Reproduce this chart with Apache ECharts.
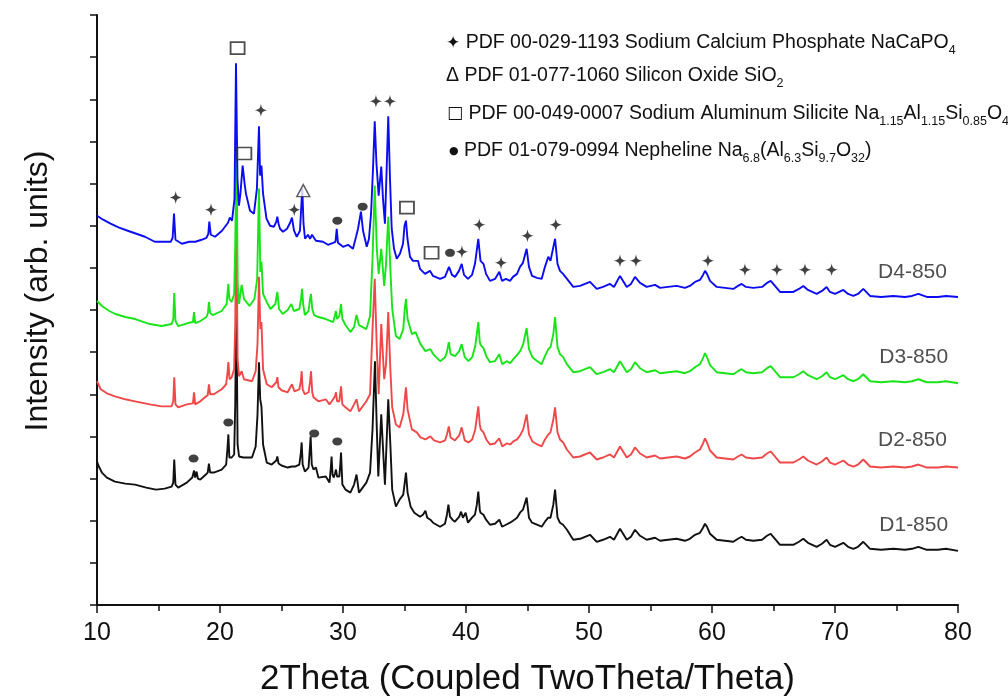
<!DOCTYPE html>
<html>
<head>
<meta charset="utf-8">
<script src="https://cdn.jsdelivr.net/npm/echarts@6/dist/echarts.min.js"></script>
<style>
  html, body { margin: 0; padding: 0; background: #fff; }
  #chart { width: 1008px; height: 697px; }
</style>
</head>
<body>
<div id="chart"></div>
<script>
// XRD patterns, [2theta (deg), intensity (arb. units, stacked offsets included)]
const d1_850 = [[10.0,143],[10.15,138],[10.4,132],[10.8,127],[11.46,123],[12.3,121],[13.09,120],[14.0,117],[14.8,115],[15.5,116],[16.07,118],[16.2,122],[16.28,145],[16.38,120],[16.6,117],[17.3,122],[17.75,127],[17.89,134],[17.98,127],[18.1,133],[18.2,126],[18.4,125],[18.85,130],[19.0,132],[19.1,141],[19.2,132],[19.5,132],[20.14,135],[20.5,140],[20.6,155],[20.68,170],[20.76,147],[20.95,147],[21.15,150],[21.24,200],[21.33,310],[21.43,160],[21.55,148],[21.9,147],[22.6,147],[22.9,158],[23.05,190],[23.17,242],[23.27,205],[23.37,198],[23.5,160],[23.8,142],[24.2,140],[24.58,144],[24.66,148],[24.76,141],[25.0,139],[25.5,137],[25.85,138],[26.1,138],[26.45,140],[26.56,150],[26.64,162],[26.72,140],[26.9,133],[27.2,137],[27.3,155],[27.37,168],[27.46,140],[27.6,135],[27.8,137],[28.0,127],[28.6,128],[28.9,122],[29.0,135],[29.07,148],[29.15,130],[29.25,127],[29.35,131],[29.43,135],[29.52,128],[29.7,128],[29.78,140],[29.84,152],[29.95,120],[30.2,115],[30.6,112],[30.9,120],[31.1,130],[31.3,112],[31.9,122],[32.2,132],[32.4,175],[32.6,243],[32.75,175],[32.87,128],[33.11,190],[33.3,145],[33.41,120],[33.68,205],[33.85,160],[34.0,115],[34.3,98],[34.6,105],[34.9,110],[35.02,122],[35.12,132],[35.25,112],[35.5,98],[35.8,92],[36.26,88],[36.5,90],[36.7,94],[36.85,87],[37.1,85],[37.32,82],[37.89,78],[38.29,81],[38.45,90],[38.57,100],[38.7,88],[38.9,85],[39.1,83],[39.45,88],[39.6,93],[39.75,87],[39.97,92],[40.16,82],[40.49,87],[40.73,90],[40.88,100],[41.0,113],[41.12,95],[41.18,92],[41.42,90],[41.63,85],[41.95,80],[42.36,81],[42.71,85],[42.93,78],[43.25,80],[43.58,82],[43.82,84],[44.15,87],[44.39,92],[44.63,95],[44.93,107],[45.12,87],[45.37,82],[45.77,80],[46.15,78],[46.42,83],[46.69,87],[46.87,87],[47.1,100],[47.24,115],[47.44,87],[47.64,82],[47.89,80],[48.21,75],[48.72,65],[49.27,66],[50.08,70],[50.63,63],[51.14,65],[51.71,68],[52.03,65],[52.52,76],[53.07,65],[53.41,68],[53.74,75],[54.15,69],[54.69,65],[55.37,67],[55.78,64],[56.43,65],[57.13,66],[57.8,64],[58.2,66],[58.62,70],[59.02,72],[59.27,77],[59.43,81],[59.59,78],[59.84,71],[60.38,65],[61.06,64],[61.73,63],[62.11,66],[62.41,68],[62.76,65],[63.36,64],[64.07,65],[64.47,69],[64.77,71],[65.12,66],[65.53,60],[66.61,60],[67.07,63],[67.42,66],[67.8,62],[68.51,58],[68.94,61],[69.32,65],[69.59,60],[70.0,58],[70.68,62],[71.06,58],[71.49,56],[71.87,58],[72.3,63],[72.85,56],[73.74,55],[74.74,56],[75.69,55],[76.26,56],[76.78,58],[77.46,55],[78.37,55],[79.02,56],[80.0,54]];

const d2_850 = [[10.0,223],[10.3,215],[10.8,211],[11.46,208],[12.3,205],[13.09,203],[14.3,200],[15.25,198],[16.07,198],[16.2,203],[16.28,227],[16.38,200],[16.6,197],[17.3,200],[17.8,201],[17.89,212],[17.98,200],[18.4,203],[18.78,207],[19.0,209],[19.1,220],[19.2,210],[19.5,210],[20.14,215],[20.5,220],[20.6,230],[20.68,242],[20.78,225],[20.95,227],[21.15,235],[21.24,280],[21.33,400],[21.43,245],[21.55,228],[21.76,233],[21.95,225],[22.6,223],[22.9,233],[23.05,260],[23.17,327],[23.28,275],[23.37,282],[23.5,235],[23.8,220],[24.2,217],[24.58,222],[24.66,227],[24.76,217],[25.0,214],[25.5,212],[25.85,220],[26.05,213],[26.45,215],[26.56,222],[26.64,233],[26.72,215],[26.9,210],[27.2,212],[27.32,222],[27.4,233],[27.5,212],[27.6,207],[28.0,203],[28.6,205],[28.9,200],[29.2,205],[29.35,208],[29.43,212],[29.52,203],[29.7,203],[29.84,218],[29.95,200],[30.2,197],[30.6,193],[30.9,200],[31.1,205],[31.3,193],[31.9,203],[32.2,210],[32.4,275],[32.58,325],[32.75,255],[32.9,210],[33.11,280],[33.35,225],[33.5,240],[33.68,292],[33.85,235],[34.0,197],[34.3,180],[34.6,177],[34.9,190],[35.02,205],[35.12,217],[35.25,195],[35.6,175],[36.0,172],[36.3,167],[36.7,165],[37.1,168],[37.4,164],[37.9,162],[38.3,164],[38.45,170],[38.6,178],[38.75,167],[39.1,164],[39.45,169],[39.65,177],[39.9,164],[40.2,162],[40.5,165],[40.75,175],[40.88,187],[41.0,198],[41.12,180],[41.2,175],[41.42,172],[41.65,165],[41.95,160],[42.35,161],[42.7,166],[42.95,158],[43.3,161],[43.6,160],[43.85,163],[44.15,165],[44.4,169],[44.65,175],[44.93,190],[45.12,170],[45.4,163],[45.8,160],[46.15,158],[46.42,165],[46.69,170],[46.87,172],[47.1,185],[47.24,197],[47.44,172],[47.64,165],[47.9,162],[48.2,155],[48.72,147],[49.27,148],[50.08,152],[50.63,145],[51.14,147],[51.71,150],[52.03,147],[52.52,158],[53.07,147],[53.41,150],[53.74,157],[54.15,151],[54.69,147],[55.37,149],[55.78,146],[56.43,147],[57.13,148],[57.8,146],[58.2,148],[58.62,152],[59.02,155],[59.27,161],[59.43,166],[59.59,162],[59.84,154],[60.38,147],[61.06,146],[61.73,145],[62.11,148],[62.41,150],[62.76,147],[63.36,146],[64.07,147],[64.47,151],[64.77,153],[65.12,148],[65.53,142],[66.61,142],[67.07,145],[67.42,148],[67.8,144],[68.51,140],[68.94,143],[69.32,147],[69.59,142],[70.0,140],[70.68,144],[71.06,140],[71.49,138],[71.87,140],[72.3,145],[72.85,138],[73.74,137],[74.74,138],[75.69,137],[76.26,138],[76.78,140],[77.46,137],[78.37,137],[79.02,138],[80.0,137]];

const d3_850 = [[10.0,303],[10.4,298],[11.0,293],[11.5,290],[12.3,287],[13.1,285],[14.3,280],[15.26,278],[16.07,280],[16.2,285],[16.28,311],[16.38,283],[16.6,278],[17.4,281],[17.8,282],[17.89,292],[17.98,281],[18.4,283],[18.9,287],[19.02,291],[19.1,302],[19.2,291],[19.4,289],[20.14,293],[20.54,300],[20.62,312],[20.68,320],[20.76,305],[20.95,302],[21.15,310],[21.24,360],[21.34,455],[21.44,320],[21.55,300],[21.76,319],[21.95,305],[22.4,298],[22.8,305],[23.02,325],[23.17,415],[23.28,332],[23.37,342],[23.5,310],[23.8,302],[24.1,295],[24.5,300],[24.66,312],[24.8,295],[25.1,290],[25.5,294],[25.8,300],[26.0,293],[26.45,295],[26.59,305],[26.67,315],[26.76,300],[26.9,289],[27.2,293],[27.32,305],[27.4,310],[27.5,295],[27.65,289],[28.0,287],[28.6,285],[29.2,282],[29.33,288],[29.42,293],[29.52,285],[29.7,288],[29.84,300],[29.95,285],[30.2,279],[30.6,272],[30.9,277],[31.1,289],[31.3,279],[31.9,275],[32.2,288],[32.4,345],[32.58,418],[32.75,355],[32.9,330],[33.11,355],[33.35,318],[33.5,340],[33.68,387],[33.85,335],[34.0,295],[34.3,268],[34.6,265],[34.9,275],[35.02,295],[35.12,305],[35.25,285],[35.6,270],[35.9,272],[36.3,260],[36.7,253],[37.1,255],[37.4,249],[37.9,243],[38.3,247],[38.45,252],[38.6,262],[38.75,250],[39.1,248],[39.45,253],[39.65,260],[39.9,247],[40.2,243],[40.5,247],[40.75,258],[40.88,270],[41.0,282],[41.12,262],[41.2,259],[41.42,256],[41.65,248],[41.95,242],[42.35,243],[42.7,250],[42.95,240],[43.3,243],[43.6,241],[43.85,245],[44.15,249],[44.4,253],[44.65,260],[44.93,276],[45.12,255],[45.4,247],[45.8,243],[46.15,240],[46.42,248],[46.69,255],[46.87,257],[47.1,270],[47.24,287],[47.44,257],[47.64,250],[47.9,247],[48.2,240],[48.72,232],[49.27,233],[50.08,237],[50.63,230],[51.14,232],[51.71,235],[52.03,232],[52.52,243],[53.07,232],[53.41,235],[53.74,242],[54.15,236],[54.69,232],[55.37,234],[55.78,231],[56.43,232],[57.13,233],[57.8,231],[58.2,233],[58.62,237],[59.02,240],[59.27,246],[59.43,251],[59.59,247],[59.84,239],[60.38,232],[61.06,231],[61.73,230],[62.11,233],[62.41,235],[62.76,232],[63.36,231],[64.07,232],[64.47,236],[64.77,238],[65.12,233],[65.53,227],[66.61,227],[67.07,230],[67.42,233],[67.8,229],[68.51,225],[68.94,228],[69.32,232],[69.59,227],[70.0,225],[70.68,229],[71.06,225],[71.49,223],[71.87,225],[72.3,230],[72.85,223],[73.74,222],[74.74,223],[75.69,222],[76.26,223],[76.78,225],[77.46,222],[78.37,222],[79.02,223],[80.0,221]];

const d4_850 = [[10.0,388],[10.5,384],[11.1,380],[11.8,376],[12.5,373],[13.2,370],[13.9,367],[14.7,362],[15.5,362],[16.0,362],[16.15,366],[16.26,390],[16.38,364],[16.9,360],[17.5,362],[18.0,362],[18.5,364],[18.9,366],[19.05,370],[19.13,382],[19.25,369],[19.6,367],[20.16,373],[20.65,381],[20.8,386],[20.98,383],[21.18,405],[21.3,540],[21.42,425],[21.54,398],[21.66,410],[21.84,438],[22.0,420],[22.11,410],[22.44,393],[22.76,390],[23.0,415],[23.17,477],[23.26,428],[23.37,438],[23.5,410],[23.78,385],[24.07,378],[24.39,377],[24.58,382],[24.66,387],[24.76,380],[24.88,375],[25.12,372],[25.45,375],[25.7,381],[25.85,386],[26.02,373],[26.24,367],[26.5,373],[26.6,395],[26.69,415],[26.79,380],[26.91,365],[27.15,369],[27.32,365],[27.48,369],[27.8,363],[28.37,362],[28.78,359],[29.19,361],[29.39,362],[29.49,375],[29.59,361],[30.0,357],[30.41,359],[30.81,355],[31.06,367],[31.22,375],[31.46,392],[31.63,373],[31.93,357],[32.11,365],[32.28,390],[32.44,435],[32.58,482],[32.72,440],[32.9,408],[33.11,437],[33.25,405],[33.41,380],[33.55,435],[33.68,487],[33.82,425],[33.96,375],[34.15,355],[34.37,345],[34.63,350],[34.88,360],[35.0,378],[35.12,383],[35.24,365],[35.45,347],[35.69,343],[35.85,342],[36.1,343],[36.26,335],[36.67,330],[37.07,333],[37.32,328],[37.89,325],[38.29,327],[38.62,337],[38.86,329],[39.11,327],[39.43,333],[39.65,340],[39.84,329],[40.16,325],[40.49,329],[40.73,340],[41.0,365],[41.18,343],[41.42,340],[41.63,330],[41.95,323],[42.36,325],[42.71,332],[42.93,323],[43.25,325],[43.58,323],[43.82,327],[44.15,330],[44.39,337],[44.63,341],[44.93,355],[45.12,337],[45.37,328],[45.77,326],[46.15,325],[46.42,337],[46.69,347],[46.87,343],[47.24,365],[47.44,340],[47.64,333],[47.89,330],[48.21,325],[48.72,317],[49.27,318],[50.08,322],[50.63,315],[51.14,317],[51.71,320],[52.03,317],[52.52,328],[53.07,317],[53.41,320],[53.74,327],[54.15,321],[54.69,317],[55.37,319],[55.78,316],[56.43,317],[57.13,318],[57.8,316],[58.2,318],[58.62,322],[59.02,324],[59.27,329],[59.43,333],[59.59,330],[59.84,323],[60.38,317],[61.06,316],[61.73,315],[62.11,318],[62.41,320],[62.76,317],[63.36,316],[64.07,317],[64.47,321],[64.77,323],[65.12,318],[65.53,312],[66.61,312],[67.07,315],[67.42,318],[67.8,314],[68.51,310],[68.94,313],[69.32,317],[69.59,312],[70.0,310],[70.68,314],[71.06,310],[71.49,308],[71.87,310],[72.3,315],[72.85,308],[73.74,307],[74.74,308],[75.69,307],[76.26,308],[76.78,310],[77.46,307],[78.37,307],[79.02,308],[80.0,307]];

// Phase identification marks, placed above the matching reflections
const phosphatePeaks = [[16.4,406],[19.27,394],[23.33,493],[26.04,394],[32.68,502],[33.82,502],[39.67,352],[41.08,379],[42.85,341],[45.0,368],[47.3,379],[52.52,343],[53.82,343],[59.67,343],[62.68,334],[65.28,334],[67.56,334],[69.73,334]];
const silicaPeaks = [[26.77,413]];
const aluminosilicatePeaks = [[21.43,555],[21.98,450],[35.2,396],[37.2,351]];
const nephelinePeaks = [[29.54,383],[31.6,397],[38.7,351],[17.85,146],[20.68,182],[27.66,171],[29.54,163]];

// Sample names, placed beside each pattern's high-angle tail
const sampleNames = ['D4-850', 'D3-850', 'D2-850', 'D1-850'];
const sampleLabelPos = [[76.3,332],[76.4,247],[76.3,164],[76.4,80]];

const xTicks = { min: 10, max: 80, step: 10 };

const FONT = '"Liberation Sans", Arial, "DejaVu Sans", sans-serif';
const STAR = 'path://M0,-10 C1,-3 3,-1 10,0 C3,1 1,3 0,10 C-1,3 -3,1 -10,0 C-3,-1 -1,-3 0,-10 Z';

const chart = echarts.init(document.getElementById('chart'), null, { renderer: 'canvas' });

function trace(name, data, color) {
  return {
    name, type: 'line', data, showSymbol: false, symbol: 'none',
    lineStyle: { color, width: 1.9 }, itemStyle: { color },
    silent: true, animation: false
  };
}
function marks(name, data, symbol, size, style) {
  return {
    name, type: 'scatter', data, symbol, symbolSize: size,
    itemStyle: style, z: 5, silent: true, animation: false
  };
}

const legendRich = {
  star: { fontSize: 17, fontFamily: FONT, color: '#111', lineHeight: 28 },
  box: { fontSize: 17, fontFamily: '"DejaVu Sans", sans-serif', color: '#222', lineHeight: 28 },
  dot: { fontSize: 11, fontFamily: '"DejaVu Sans", sans-serif', color: '#111', lineHeight: 28 },
  sub: { fontSize: 12.5, fontFamily: FONT, color: '#111', verticalAlign: 'bottom' }
};
function legendLine(x, y, text) {
  return {
    type: 'text', left: x, top: y - 14, silent: true,
    style: { text, font: '19.5px ' + FONT, fill: '#111', lineHeight: 28, rich: legendRich }
  };
}

chart.setOption({
  animation: false,
  backgroundColor: '#fff',
  grid: { left: 97, right: 50, top: 15, bottom: 92, containLabel: false, outerBoundsMode: 'none' },
  xAxis: {
    type: 'value', min: xTicks.min, max: xTicks.max, interval: xTicks.step,
    name: '2Theta (Coupled TwoTheta/Theta)', nameLocation: 'middle', nameGap: 57,
    nameTextStyle: { fontSize: 35, fontFamily: FONT, color: '#111' },
    axisLine: { lineStyle: { color: '#111', width: 2 } },
    axisTick: { length: 8, lineStyle: { color: '#111', width: 1.5 } },
    minorTick: { show: true, splitNumber: 2, length: 6, lineStyle: { color: '#111', width: 1.5 } },
    axisLabel: { fontSize: 25, fontFamily: FONT, color: '#111', margin: 16 },
    splitLine: { show: false }
  },
  yAxis: {
    type: 'value', min: 0, max: 588, interval: 42,
    axisLine: { show: true, lineStyle: { color: '#111', width: 2 } },
    axisTick: { show: true, length: 7, lineStyle: { color: '#111', width: 1.5 } },
    axisLabel: { show: false },
    splitLine: { show: false }
  },
  series: [
    trace('D1-850', d1_850, '#111111'),
    trace('D2-850', d2_850, '#f04848'),
    trace('D3-850', d3_850, '#18e418'),
    trace('D4-850', d4_850, '#0c0cf2'),
    marks('NaCaPO4', phosphatePeaks, STAR, 13, { color: '#111' }),
    marks('SiO2', silicaPeaks, 'triangle', [13, 12], { color: '#fff', borderColor: '#333', borderWidth: 1.4 }),
    marks('Na1.15Al1.15Si0.85O4', aluminosilicatePeaks, 'rect', [14, 12], { color: '#fff', borderColor: '#222', borderWidth: 1.7 }),
    marks('Nepheline', nephelinePeaks, 'circle', [10, 8], { color: '#111' }),
    {
      name: 'samples', type: 'scatter', symbolSize: 1, silent: true, animation: false,
      itemStyle: { color: 'rgba(0,0,0,0)' },
      data: sampleNames.map((n, i) => ({ name: n, value: sampleLabelPos[i] })),
      label: { show: true, position: 'inside', formatter: p => p.name,
               fontSize: 21, fontFamily: FONT, color: '#222' }
    }
  ],
  graphic: [
    legendLine(446, 43, '{star|✦} PDF 00-029-1193 Sodium Calcium Phosphate NaCaPO{sub|4}'),
    legendLine(446, 76, 'Δ PDF 01-077-1060 Silicon Oxide SiO{sub|2}'),
    legendLine(447, 114, '{box|□} PDF 00-049-0007 Sodium Aluminum Silicite Na{sub|1.15}Al{sub|1.15}Si{sub|0.85}O{sub|4}'),
    legendLine(449, 151, '{dot|●} PDF 01-079-0994 Nepheline Na{sub|6.8}(Al{sub|6.3}Si{sub|9.7}O{sub|32})'),
    {
      type: 'text', x: 38, y: 291, rotation: Math.PI / 2, silent: true,
      style: { text: 'Intensity (arb. units)', font: '32px ' + FONT, fill: '#111',
               align: 'center', verticalAlign: 'middle' }
    }
  ]
});
</script>
</body>
</html>
